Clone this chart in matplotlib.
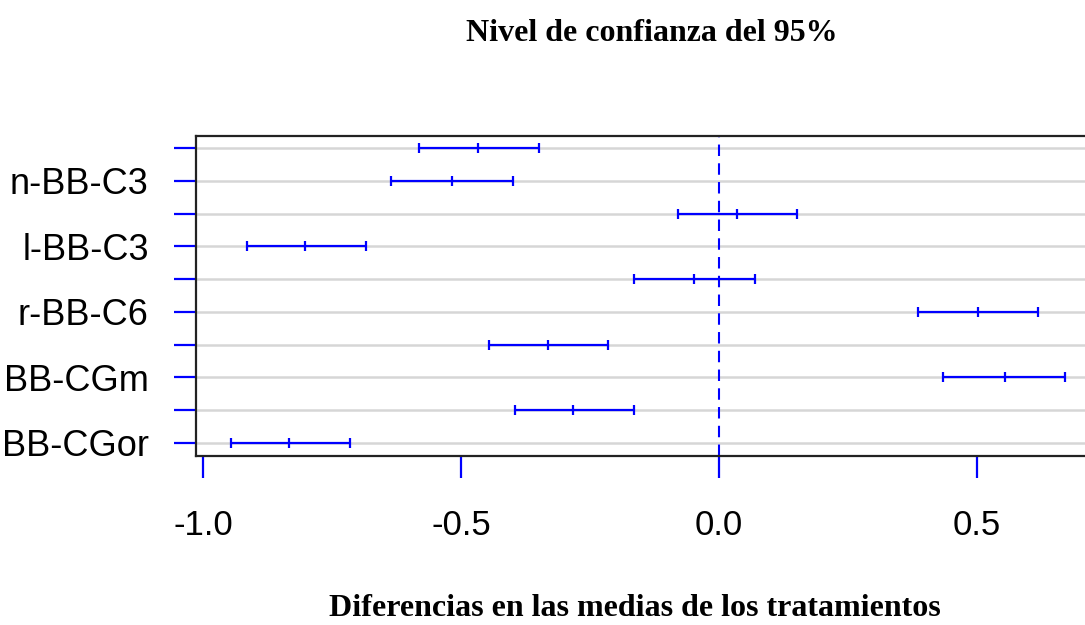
import matplotlib
matplotlib.use("Agg")
import matplotlib.pyplot as plt

# Tukey-style intervals, top row first (labels are the parts visible in the source)
row_labels = ["", "n-BB-C3", "", "l-BB-C3", "", "r-BB-C6",
              "", "BB-CGm", "", "BB-CGor"]
lower = [-0.581, -0.636, -0.079, -0.915, -0.165, 0.386, -0.446, 0.434, -0.395, -0.946]
center = [-0.467, -0.517, 0.035, -0.802, -0.048, 0.502, -0.331, 0.554, -0.283, -0.833]
upper = [-0.349, -0.399, 0.151, -0.684, 0.070, 0.618, -0.215, 0.671, -0.165, -0.715]
x_ticks = [-1.0, -0.5, 0.0, 0.5]
x_tick_labels = ["-1.0", "-0.5", "0.0", "0.5"]

title = "Nivel de confianza del 95%"
xlabel = "Diferencias en las medias de los tratamientos"

W, H = 1085, 625
fig = plt.figure(figsize=(W / 100, H / 100), dpi=100)
ax = fig.add_axes([196 / W, (H - 456) / H, 904 / W, 320 / H])

n = len(center)
ypos = list(range(n, 0, -1))

for y in ypos:
    ax.axhline(y, color="#d6d6d6", lw=1.8, zorder=1)

ax.axvline(0, color="blue", lw=1.5, dashes=(5.5, 3.5), zorder=2)

ax.hlines(ypos, lower, upper, color="blue", lw=1.6, zorder=3)
for xs in (lower, center, upper):
    ax.plot(xs, ypos, ls="none", marker="|", ms=7, mew=1.6, color="blue", zorder=3)

ax.set_xlim(-1.0136, 0.738)
ax.set_ylim(0.603, 10.366)

ax.set_xticks(x_ticks)
ax.set_xticklabels(x_tick_labels, fontsize=25, family="Liberation Sans")
ax.set_yticks(ypos)
ax.set_yticklabels(row_labels, fontsize=26, family="Liberation Sans")
ax.tick_params(axis="both", color="blue", length=16, width=1.6)
ax.tick_params(axis="x", pad=22)
ax.tick_params(axis="y", pad=18)

for s in ax.spines.values():
    s.set_linewidth(1.6)
    s.set_color("#222222")

fig.text(652 / W, 1 - 41 / H, title, ha="center", va="baseline",
         fontsize=23, fontweight="bold", family="Liberation Serif")
fig.text(635 / W, 1 - 616 / H, xlabel, ha="center", va="baseline",
         fontsize=23, fontweight="bold", family="Liberation Serif")

fig.savefig("out.png", dpi=100)
